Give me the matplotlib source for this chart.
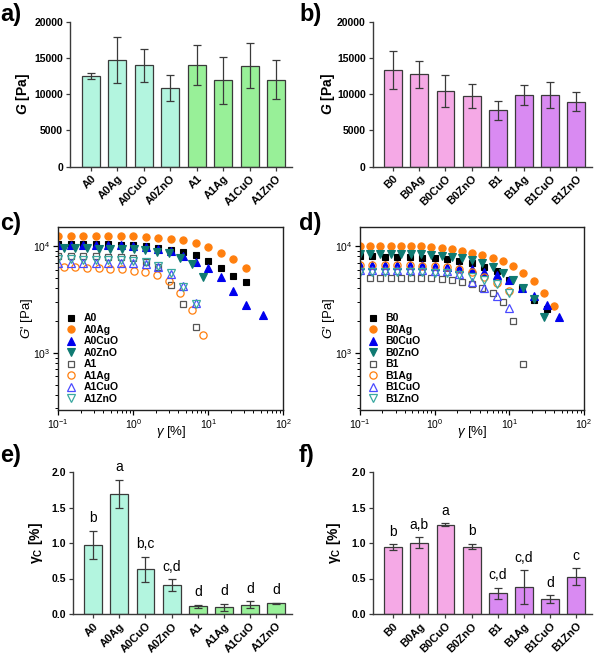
import numpy as np
import matplotlib
matplotlib.use("Agg")
import matplotlib.pyplot as plt
from matplotlib.ticker import LogLocator, NullFormatter

plt.rcParams['font.family'] = ['Liberation Sans', 'DejaVu Sans']
plt.rcParams['mathtext.fontset'] = 'custom'
plt.rcParams['mathtext.rm'] = 'Liberation Sans:bold'
plt.rcParams['mathtext.it'] = 'Liberation Sans:italic'
plt.rcParams['mathtext.bf'] = 'Liberation Sans:bold'
plt.rcParams['mathtext.sf'] = 'Liberation Sans:bold:italic'

# ---------------- data ----------------
labels_A = ['A0', 'A0Ag', 'A0CuO', 'A0ZnO', 'A1', 'A1Ag', 'A1CuO', 'A1ZnO']
labels_B = ['B0', 'B0Ag', 'B0CuO', 'B0ZnO', 'B1', 'B1Ag', 'B1CuO', 'B1ZnO']

G_A = [12500, 14700, 14000, 10850, 14050, 11900, 13950, 12000]
G_A_err = [450, 3200, 2250, 1750, 2750, 3250, 3150, 2650]
G_B = [13350, 12750, 10400, 9800, 7800, 9900, 9900, 8950]
G_B_err = [2600, 1850, 2200, 1650, 1330, 1400, 1800, 1300]

gc_A = [0.97, 1.69, 0.63, 0.41, 0.11, 0.095, 0.13, 0.15]
gc_A_err = [0.20, 0.20, 0.175, 0.08, 0.02, 0.047, 0.05, 0.005]
letters_A = ['b', 'a', 'b,c', 'c,d', 'd', 'd', 'd', 'd']
gc_B = [0.945, 1.005, 1.26, 0.95, 0.29, 0.38, 0.21, 0.525]
gc_B_err = [0.04, 0.078, 0.02, 0.037, 0.08, 0.235, 0.055, 0.12]
letters_B = ['b', 'a,b', 'a', 'b', 'c,d', 'c,d', 'd', 'c']

# strain grids [%]
strain_6 = [0.1, 0.147, 0.215, 0.316, 0.464, 0.681, 1.0, 1.47, 2.15, 3.16,
            4.64, 6.81, 10.0, 14.7, 21.5, 31.6, 46.4]
strain_c2 = [0.118, 0.169, 0.241, 0.345, 0.494, 0.706, 1.01, 1.44, 2.06,
             2.95, 4.22, 6.03, 8.6]
strain_d = [0.100, 0.137, 0.188, 0.257, 0.352, 0.483, 0.661, 0.906, 1.24,
            1.70, 2.33, 3.19, 4.37, 5.99, 8.20, 11.2, 15.4, 21.1, 28.9, 39.6]
strain_A0CuO = strain_6[:16] + [53.0]

# panel c: G' [Pa]
Gp_A0 = [10400, 10400, 10350, 10350, 10350, 10300, 10150, 10050, 9650, 9250,
         8800, 8200, 7300, 6250, 5250, 4600]
Gp_A0Ag = [12500, 12500, 12450, 12450, 12450, 12400, 12300, 12150, 11950,
           11700, 11300, 10600, 9700, 8650, 7550, 6200]
Gp_A0CuO = [10300, 10300, 10250, 10250, 10200, 10150, 10000, 9800, 9400,
            8980, 8120, 7140, 6180, 5090, 3790, 2810, 2270]
Gp_A0ZnO = [9500, 9500, 9500, 9450, 9450, 9400, 9300, 9200, 8850, 8550, 7800,
            6750, 5100]
Gp_A1 = [8050, 8050, 8000, 8000, 7950, 7850, 7650, 7100, 6400, 4350, 2850, 1730]
Gp_A1Ag = [6300, 6300, 6250, 6200, 6100, 6050, 5900, 5750, 5350, 4700, 3650,
           2500, 1470]
Gp_A1CuO = [7000, 7000, 7000, 7000, 7000, 6950, 6900, 6800, 6400, 5500, 4250,
            2950]
Gp_A1ZnO = [7500, 7500, 7450, 7450, 7450, 7400, 7300, 7100, 6500, 5600, 4150,
            2850]

# panel d: G' [Pa]
Gp_B0 = [8100, 8050, 7950, 7950, 7850, 7750, 7650, 7500, 7250, 7000, 6400,
         5850, 4800, 4000, 3150, 2550]
Gp_B0Ag = [10100, 10100, 10100, 10100, 10100, 10000, 10000, 9850, 9650, 9350,
           9050, 8700, 8300, 7800, 7200, 6500, 5600, 4700, 3650, 2750]
Gp_B0CuO = [6700, 6700, 6700, 6700, 6700, 6650, 6500, 6400, 6250, 6050, 5750,
            5400, 4800, 4000, 3400, 2800, 2150]
Gp_B0ZnO = [8350, 8350, 8350, 8350, 8350, 8350, 8350, 8250, 8100, 7950, 7800,
            7400, 6900, 6400, 5650, 4800, 4050, 3200, 2180]
Gp_B1 = [5050, 5050, 5050, 5050, 5050, 4970, 4970, 4870, 4760, 4630, 4400,
         4070, 3600, 2960, 1980, 783]
Gp_B1Ag = [6650, 6650, 6650, 6650, 6600, 6550, 6500, 6350, 6100, 5700, 5100,
           4500, 3800]
Gp_B1CuO = [6000, 6000, 6000, 6000, 5950, 5950, 5900, 5800, 5500, 4650, 4000,
            3400, 2650]
Gp_B1ZnO = [5750, 5750, 5750, 5750, 5750, 5750, 5650, 5550, 5400, 5150, 4850,
            4400, 3650]

# ---------------- styles ----------------
col_A0 = '#b3f5df'
col_A1 = '#98f098'
col_B0 = '#f5a9e6'
col_B1 = '#d98af2'
edge = '#3a3a3a'
c_black = '#000000'
c_orange = '#ff7f0e'
c_blue = '#0000ee'
c_teal = '#0f7a72'
c_grey = '#555555'
c_blue_o = '#4a4aff'
c_teal_o = '#3aa8a0'

W, H = 600, 658
fig = plt.figure(figsize=(W / 100, H / 100), dpi=100)


def add_ax(left, top, right, bottom):
    return fig.add_axes([left / W, 1 - bottom / H, (right - left) / W, (bottom - top) / H])


def bar_panel(ax, labels, vals, errs, colors, ylim, yticks, ytl, ylabel, lab_x):
    x = np.arange(len(labels))
    ax.bar(x, vals, width=0.68, color=colors, edgecolor=edge, linewidth=0.9, zorder=2)
    ax.errorbar(x, vals, yerr=errs, fmt='none', ecolor=edge, elinewidth=0.9,
                capsize=2.8, capthick=0.9, zorder=3)
    for s in ['top', 'right']:
        ax.spines[s].set_visible(False)
    for s in ['left', 'bottom']:
        ax.spines[s].set_color(edge)
        ax.spines[s].set_linewidth(1.0)
    ax.set_xlim(-0.78, 7.6)
    ax.set_ylim(*ylim)
    ax.set_yticks(yticks)
    ax.set_yticklabels(ytl, fontweight='bold', fontsize=7.5)
    ax.set_xticks(x)
    ax.set_xticklabels(labels, rotation=45, ha='right', rotation_mode='anchor',
                       fontweight='bold', fontsize=8)
    ax.tick_params(direction='out', length=3, width=0.9, color=edge, pad=2)
    ax.set_ylabel(ylabel, fontsize=10, fontweight='bold')
    ax.yaxis.set_label_coords(lab_x, 0.5)
    return x


# a)
axa = add_ax(70, 21.7, 292, 166.7)
bar_panel(axa, labels_A, G_A, G_A_err, [col_A0] * 4 + [col_A1] * 4, (0, 20000),
          [0, 5000, 10000, 15000, 20000], ['0', '5000', '10000', '15000', '20000'],
          r'$\mathsf{G}$ [Pa]', -0.17)
# b)
axb = add_ax(372.7, 21.7, 592, 166.7)
bar_panel(axb, labels_B, G_B, G_B_err, [col_B0] * 4 + [col_B1] * 4, (0, 20000),
          [0, 5000, 10000, 15000, 20000], ['0', '5000', '10000', '15000', '20000'],
          r'$\mathsf{G}$ [Pa]', -0.163)

# e)
axe = add_ax(72.7, 472, 292, 614)
xe = bar_panel(axe, labels_A, gc_A, gc_A_err, [col_A0] * 4 + [col_A1] * 4, (0, 2.0),
               [0, 0.5, 1.0, 1.5, 2.0], ['0.0', '0.5', '1.0', '1.5', '2.0'],
               r'$\mathbf{\gamma}_{\mathbf{C}}$ [%]', -0.126)
for xi, v, e, t in zip(xe, gc_A, gc_A_err, letters_A):
    axe.annotate(t, (xi, v + e), xytext=(0, 4), textcoords='offset points',
                 ha='center', va='bottom', fontsize=10)
# f)
axf = add_ax(372.7, 472, 592, 614)
xf = bar_panel(axf, labels_B, gc_B, gc_B_err, [col_B0] * 4 + [col_B1] * 4, (0, 2.0),
               [0, 0.5, 1.0, 1.5, 2.0], ['0.0', '0.5', '1.0', '1.5', '2.0'],
               r'$\mathbf{\gamma}_{\mathbf{C}}$ [%]', -0.135)
for xi, v, e, t in zip(xf, gc_B, gc_B_err, letters_B):
    axf.annotate(t, (xi, v + e), xytext=(0, 4), textcoords='offset points',
                 ha='center', va='bottom', fontsize=10)


def scatter_panel(ax, series):
    for xs, ys, mk, col, filled, ms, lab in series:
        if filled:
            ax.plot(xs, ys, ls='none', marker=mk, ms=ms, mfc=col, mec=col,
                    mew=0.8, label=lab)
        else:
            ax.plot(xs, ys, ls='none', marker=mk, ms=ms, mfc='none', mec=col,
                    mew=0.9, label=lab)
    ax.set_xscale('log')
    ax.set_yscale('log')
    ax.set_xlim(0.1, 100)
    ax.set_ylim(290, 15000)
    ax.xaxis.set_major_locator(LogLocator(base=10, numticks=10))
    ax.yaxis.set_major_locator(LogLocator(base=10, numticks=10))
    ax.xaxis.set_minor_locator(LogLocator(base=10, subs=np.arange(2, 10), numticks=20))
    ax.yaxis.set_minor_locator(LogLocator(base=10, subs=np.arange(2, 10), numticks=20))
    ax.xaxis.set_minor_formatter(NullFormatter())
    ax.yaxis.set_minor_formatter(NullFormatter())
    ax.tick_params(which='major', direction='out', length=3.5, width=0.9, labelsize=7.5, pad=2)
    ax.tick_params(which='minor', direction='out', length=2, width=0.7)
    for s in ax.spines.values():
        s.set_linewidth(1.0)
        s.set_color('#222222')
    ax.set_ylabel(r"$G$' [Pa]", fontsize=9.5)
    ax.yaxis.set_label_coords(-0.104, 0.5)
    ax.set_xlabel(r"$\gamma$ [%]", fontsize=9.5)
    ax.xaxis.set_label_coords(0.5, -0.075)
    ax.legend(loc='lower left', bbox_to_anchor=(0.035, 0.035), frameon=False,
              prop={'weight': 'bold', 'size': 7.5}, handlelength=1.0,
              handletextpad=0.7, labelspacing=0.14, borderaxespad=0, borderpad=0)


axc = add_ax(58.3, 227.3, 283.3, 410)
scatter_panel(axc, [
    (strain_6[:16], Gp_A0, 's', c_black, True, 4.3, 'A0'),
    (strain_6[:16], Gp_A0Ag, 'o', c_orange, True, 5.2, 'A0Ag'),
    (strain_A0CuO, Gp_A0CuO, '^', c_blue, True, 5.2, 'A0CuO'),
    (strain_c2, Gp_A0ZnO, 'v', c_teal, True, 5.2, 'A0ZnO'),
    (strain_6[:12], Gp_A1, 's', c_grey, False, 4.3, 'A1'),
    (strain_c2, Gp_A1Ag, 'o', c_orange, False, 5.2, 'A1Ag'),
    (strain_6[:12], Gp_A1CuO, '^', c_blue_o, False, 5.2, 'A1CuO'),
    (strain_6[:12], Gp_A1ZnO, 'v', c_teal_o, False, 5.2, 'A1ZnO'),
])

axd = add_ax(360, 227.3, 584, 410)
scatter_panel(axd, [
    (strain_6[:16], Gp_B0, 's', c_black, True, 4.3, 'B0'),
    (strain_d, Gp_B0Ag, 'o', c_orange, True, 5.2, 'B0Ag'),
    (strain_6[:17], Gp_B0CuO, '^', c_blue, True, 5.2, 'B0CuO'),
    (strain_d[:19], Gp_B0ZnO, 'v', c_teal, True, 5.2, 'B0ZnO'),
    (strain_d[1:17], Gp_B1, 's', c_grey, False, 4.3, 'B1'),
    (strain_6[:13], Gp_B1Ag, 'o', c_orange, False, 5.2, 'B1Ag'),
    (strain_6[:13], Gp_B1CuO, '^', c_blue_o, False, 5.2, 'B1CuO'),
    (strain_6[:13], Gp_B1ZnO, 'v', c_teal_o, False, 5.2, 'B1ZnO'),
])

# panel letters
for t, px, py in [('a)', 0, 3), ('b)', 299, 3), ('c)', 0, 212),
                  ('d)', 299, 212), ('e)', 0, 444), ('f)', 299, 444)]:
    fig.text(px / W, 1 - py / H, t, fontsize=17, fontweight='bold', ha='left', va='top')

fig.savefig('out.png', dpi=100)
